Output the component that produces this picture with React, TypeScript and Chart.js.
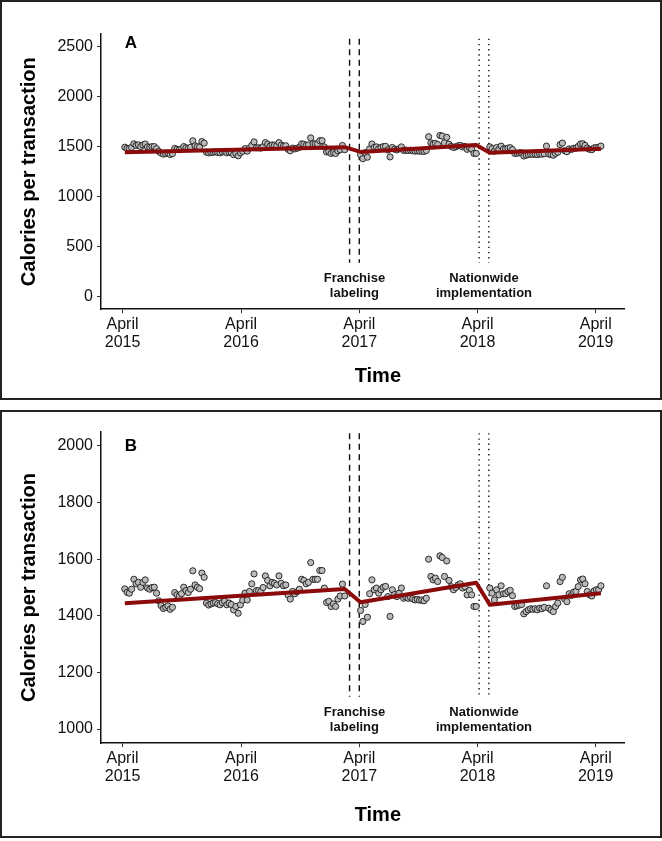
import React, { useEffect, useRef } from "react";
import { Chart, registerables } from "chart.js";

Chart.register(...registerables);

// ---------- data ----------
const START_DATE = "2015-04-08"; // first weekly observation
const weeklyCalories: (number | null)[] = [
  1495, 1483, 1480, 1494, 1529, 1513, 1518, 1501, 1518, 1527,
  1498, 1494, 1500, 1501, 1480, 1453, 1436, 1426, 1430, 1435,
  1423, 1430, 1482, 1474, 1470, 1478, 1501, 1489, 1482, 1494,
  1559, 1509, 1501, 1496, 1551, 1536, 1445, 1438, 1442, 1445,
  1447, 1443, 1439, 1447, 1452, 1439, 1445, 1440, 1421, 1433,
  1409, 1439, 1455, 1480, 1456, 1486, 1513, 1548, 1489, 1489,
  1486, 1500, 1541, 1525, 1506, 1518, 1515, 1509, 1541, 1515,
  1506, 1509, 1474, 1459, 1486, 1478, 1485, 1494, 1529, 1525,
  1513, 1518, 1588, 1529, 1529, 1529, 1560, 1560, 1498, 1447,
  1451, 1433, 1442, 1433, 1459, 1470, 1512, 1470, null, null,
  null, null, null, null, 1419, 1380, 1440, 1395, 1478, 1527,
  1492, 1498, 1480, 1492, 1501, 1504, 1468, 1398, 1492, 1475,
  1468, 1480, 1498, 1462, 1466, 1462, 1465, 1460, 1456, 1458,
  1455, 1456, 1453, 1462, 1600, 1539, 1527, 1533, 1521, 1612,
  1606, 1539, 1594, 1525, 1503, 1492, 1500, 1509, 1513, 1498,
  1503, 1474, 1490, 1474, 1433, 1433, null, null, null, null,
  null, 1498, 1480, 1456, 1492, 1474, 1506, 1478, 1478, 1486,
  1490, 1471, 1433, 1435, 1438, 1440, 1407, 1415, 1421, 1425,
  1423, 1425, 1421, 1427, 1425, 1430, 1506, 1427, 1421, 1415,
  1433, 1445, 1521, 1536, 1460, 1450, 1478, 1472, 1484, 1486,
  1503, 1527, 1530, 1513, 1486, 1474, 1470, 1488, 1492, 1492,
  1506,
];
const fitWeeks = [0, 97, 104, 155, 161, 210];
const fitCalories = [1444, 1495, 1448, 1517, 1439, 1480];

const xTickDates = ["2015-04-01", "2016-04-01", "2017-04-01", "2018-04-01", "2019-04-01"];
const xTickLabels = [
  ["April", "2015"],
  ["April", "2016"],
  ["April", "2017"],
  ["April", "2018"],
  ["April", "2019"],
];
const franchiseDates = ["2017-03-02", "2017-04-01"];
const nationwideDates = ["2018-04-06", "2018-05-06"];
const franchiseLabel = ["Franchise", "labeling"];
const nationwideLabel = ["Nationwide", "implementation"];

const yTicksA = [0, 500, 1000, 1500, 2000, 2500];
const yTicksB = [1000, 1200, 1400, 1600, 1800, 2000];

const FONT = "'Liberation Sans', Arial, Helvetica, sans-serif";

function weekOf(date: string): number {
  return (Date.parse(date + "T00:00:00Z") - Date.parse(START_DATE + "T00:00:00Z")) / (7 * 86400000);
}

type PanelSpec = {
  letter: string;
  yMin: number;
  yMax: number;
  yTicks: number[];
  letterY: number;
  lineTop: number;
  lineBottom: number;
  boxTop: number;
  boxHeight: number;
  chartTop: number;
  chartBottom: number;
  timeOffset: number;
};

const panels: PanelSpec[] = [
  {
    letter: "A", yMin: -125, yMax: 2625, yTicks: yTicksA, letterY: 2537,
    lineTop: 2580, lineBottom: 340,
    boxTop: 0, boxHeight: 400, chartTop: 32.2, chartBottom: 307.2, timeOffset: 67,
  },
  {
    letter: "B", yMin: 950, yMax: 2050, yTicks: yTicksB, letterY: 1998,
    lineTop: 2045, lineBottom: 1114,
    boxTop: 410, boxHeight: 428, chartTop: 19.8, chartBottom: 331.2, timeOffset: 72,
  },
];

const BOX_W = 662;
const BORDER = 2;
const Y_AXIS_W = 99;
const CHART_RIGHT = 622.7;

function Panel({ spec }: { spec: PanelSpec }) {
  const ref = useRef<HTMLCanvasElement>(null);
  const cw = BOX_W - 2 * BORDER;
  const ch = spec.boxHeight - 2 * BORDER;

  useEffect(() => {
    if (!ref.current) return;
    const points = weeklyCalories
      .map((v, i) => (v == null ? null : { x: i, y: v }))
      .filter((p) => p !== null) as { x: number; y: number }[];
    const fit = fitWeeks.map((w, i) => ({ x: w, y: fitCalories[i] }));

    const annot = {
      id: "annot" + spec.letter,
      beforeDatasetsDraw(chart: any) {
        const { ctx } = chart;
        const xs = chart.scales.x;
        const ys = chart.scales.y;
        const yTop = ys.getPixelForValue(spec.lineTop);
        const yBot = ys.getPixelForValue(spec.lineBottom);
        ctx.save();
        ctx.strokeStyle = "#111";
        ctx.lineWidth = 1.4;
        ctx.setLineDash([6, 4.5]);
        franchiseDates.forEach((d) => {
          const x = xs.getPixelForValue(weekOf(d));
          ctx.beginPath();
          ctx.moveTo(x, yTop);
          ctx.lineTo(x, yBot);
          ctx.stroke();
        });
        ctx.setLineDash([1.4, 3.8]);
        nationwideDates.forEach((d) => {
          const x = xs.getPixelForValue(weekOf(d));
          ctx.beginPath();
          ctx.moveTo(x, yTop);
          ctx.lineTo(x, yBot);
          ctx.stroke();
        });
        ctx.restore();
      },
      afterDraw(chart: any) {
        const { ctx, chartArea } = chart;
        const xs = chart.scales.x;
        const ys = chart.scales.y;
        ctx.save();
        ctx.fillStyle = "#111";
        ctx.textAlign = "center";
        ctx.textBaseline = "middle";
        ctx.font = `bold 13px ${FONT}`;
        const drawLabel = (dates: string[], lines: string[]) => {
          const x = (xs.getPixelForValue(weekOf(dates[0])) + xs.getPixelForValue(weekOf(dates[1]))) / 2;
          lines.forEach((t, k) => {
            ctx.fillText(t, x, chartArea.bottom - 31 + k * 15.6);
          });
        };
        drawLabel(franchiseDates, franchiseLabel);
        drawLabel(nationwideDates, nationwideLabel);
        // panel letter
        ctx.font = `bold 17px ${FONT}`;
        ctx.fillStyle = "#000";
        ctx.fillText(spec.letter, xs.getPixelForValue(2.7), ys.getPixelForValue(spec.letterY));
        // x title
        ctx.font = `bold 20px ${FONT}`;
        ctx.fillText("Time", (chartArea.left + chartArea.right) / 2 + 15, chartArea.bottom + spec.timeOffset);
        ctx.restore();
      },
    };

    const chart = new Chart(ref.current, {
      type: "scatter",
      data: {
        datasets: [
          {
            label: "Fitted",
            data: fit,
            showLine: true,
            borderColor: "#8B0A0A",
            borderWidth: 4,
            pointRadius: 0,
            borderJoinStyle: "round",
            order: 0,
          } as any,
          {
            label: "Calories",
            data: points,
            backgroundColor: "#BBBBBB",
            borderColor: "#1a1a1a",
            borderWidth: 0.9,
            pointRadius: 3.1,
            order: 1,
          },
        ],
      },
      options: {
        responsive: false,
        animation: false,
        events: [],
        layout: {
          padding: { left: 0, top: spec.chartTop, right: cw - CHART_RIGHT, bottom: 0 },
        },
        plugins: { legend: { display: false }, tooltip: { enabled: false } },
        scales: {
          x: {
            type: "linear",
            min: -10.5,
            max: 220.5,
            afterBuildTicks: (scale: any) => {
              scale.ticks = xTickDates.map((d) => ({ value: weekOf(d) }));
            },
            afterFit: (scale: any) => {
              scale.height = ch - spec.chartBottom;
            },
            ticks: {
              autoSkip: false,
              maxRotation: 0,
              padding: 2,
              color: "#111",
              font: { family: FONT, size: 16, lineHeight: 1.15 },
              callback: (_v: any, i: number) => xTickLabels[i],
            },
            grid: { drawOnChartArea: false, drawTicks: true, tickLength: 4, color: "#333", lineWidth: 1 },
            border: { display: true, color: "#111", width: 1.5 },
          },
          y: {
            type: "linear",
            min: spec.yMin,
            max: spec.yMax,
            afterBuildTicks: (scale: any) => {
              scale.ticks = spec.yTicks.map((v) => ({ value: v }));
            },
            afterFit: (scale: any) => {
              scale.width = Y_AXIS_W;
            },
            ticks: {
              padding: 4,
              color: "#111",
              font: { family: FONT, size: 16 },
              callback: (v: any) => String(v),
            },
            grid: { drawOnChartArea: false, drawTicks: true, tickLength: 4, color: "#333", lineWidth: 1 },
            border: { display: true, color: "#111", width: 1.5 },
            title: {
              display: true,
              text: "Calories per transaction",
              color: "#000",
              font: { family: FONT, size: 20, weight: "bold" },
              padding: { top: 15.5, bottom: 0 },
            },
          },
        },
      },
      plugins: [annot],
    } as any);
    return () => chart.destroy();
  }, [spec]);

  return (
    <div
      style={{
        position: "absolute",
        left: 0,
        top: spec.boxTop,
        width: BOX_W,
        height: spec.boxHeight,
        border: `${BORDER}px solid #222`,
        boxSizing: "border-box",
        background: "#fff",
      }}
    >
      <canvas ref={ref} width={cw} height={ch} style={{ display: "block", width: cw, height: ch }} />
    </div>
  );
}

export default function App() {
  return (
    <div style={{ position: "absolute", left: 0, top: 0, width: 662, height: 841, background: "#fff" }}>
      {panels.map((p) => (
        <Panel key={p.letter} spec={p} />
      ))}
    </div>
  );
}
